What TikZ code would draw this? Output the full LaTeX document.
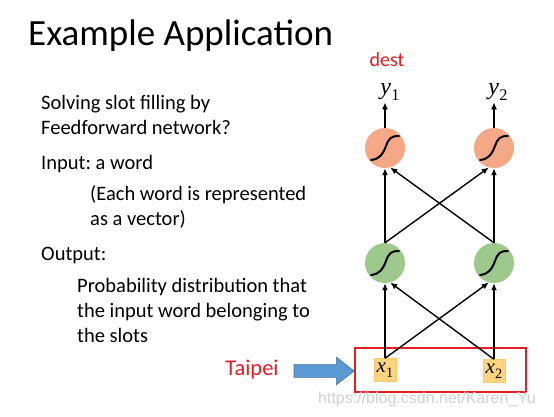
\documentclass[tikz,border=0pt]{standalone}
\usepackage{fontspec}
\setmainfont{Carlito}
\newfontfamily\wmfont{Liberation Sans}
\newfontfamily\varfont{Liberation Serif}
\usepackage{tikz}
\usetikzlibrary{arrows.meta,positioning,calc,shapes.arrows}
\definecolor{slideRed}{HTML}{E31E24}
\definecolor{outSalmon}{HTML}{F5A886}
\definecolor{hidGreen}{HTML}{9DC98C}
\definecolor{inYellow}{HTML}{FFD47F}
\definecolor{arrBlue}{HTML}{5B9BD5}
\newcommand{\varsub}[3]{{\varfont\fontsize{#3}{#3}\selectfont\itshape #1\kern0.3pt\raisebox{-0.22em}{\fontsize{0.68\dimexpr#3pt\relax}{1}\selectfont\upshape #2}}}
\tikzset{
  neuron/.style   = {circle, minimum size=40pt, inner sep=0pt},
  xbox/.style     = {rectangle, fill=inYellow, draw=inYellow!85!orange, minimum width=22pt,
                     minimum height=23pt, inner sep=0pt},
  bodytext/.style = {anchor=base west, inner sep=0pt, font=\fontsize{20.5}{24}\selectfont},
  wire/.style     = {-{Latex[length=7pt,width=6pt]}, line width=1.4pt},
  sigline/.style  = {line width=2pt, line cap=round},
}
\frenchspacing

\begin{document}
\begin{tikzpicture}[x=1pt,y=-1pt]

  % Page
  \fill[white] (0,0) rectangle (554,416);
  \useasboundingbox (0,0) rectangle (554,416);

  % Title
  \node[anchor=base west, inner sep=0pt, font=\fontsize{37}{44}\selectfont] (title) at (28,45)
    {Example Application};

  % === Slide text ===
  \node[bodytext] (t1) at (41,109) {Solving slot filling by};
  \node[bodytext] (t2) at (41,134) {Feedforward network?};
  \node[bodytext] (t3) at (41,169) {Input: a word};
  \node[bodytext] (t4) at (90,200) {(Each word is represented};
  \node[bodytext] (t5) at (90,225) {as a vector)};
  \node[bodytext] (t6) at (41,260) {Output:};
  \node[bodytext] (t7) at (77,292) {Probability distribution that};
  \node[bodytext] (t8) at (77,317) {the input word belonging to};
  \node[bodytext] (t9) at (77,342) {the slots};

  % === Network ===
  \node[font=\fontsize{20}{24}\selectfont, text=slideRed] (dest) at (387,60) {dest};
  \node[inner sep=2pt] (y1) at (390,92) {\varsub{y}{1}{24}};
  \node[inner sep=2pt] (y2) at (498,92) {\varsub{y}{2}{24}};

  % Output layer
  \node[neuron, fill=outSalmon] (o1) at (385,148) {};
  \node[neuron, fill=outSalmon] (o2) at (494,148) {};

  % Hidden layer
  \node[neuron, fill=hidGreen] (h1) at (385,263) {};
  \node[neuron, fill=hidGreen] (h2) at (494,263) {};

  % Sigmoid curves
  \foreach \n in {o1,o2,h1,h2} {
    \draw[sigline] ([shift={(-14,12)}]\n.center)
      .. controls ([shift={(-5,11)}]\n.center) and ([shift={(-2,6)}]\n.center) .. ([shift={(1,-2)}]\n.center)
      .. controls ([shift={(4,-10)}]\n.center) and ([shift={(6,-12)}]\n.center) .. ([shift={(14,-12)}]\n.center);
  }

  % Input words
  \node[draw=slideRed, line width=2pt, minimum width=171pt, minimum height=44pt, inner sep=0pt]
    (inframe) at (440.5,370) {};
  \node[xbox] (x1) at (385,370) {\varsub{x}{1}{21}};
  \node[xbox] (x2) at (494,371) {\varsub{x}{2}{21}};

  % Taipei and blue arrow
  \node[font=\fontsize{22.5}{26}\selectfont, text=slideRed] (taipei) at (252,370) {Taipei};
  \node[single arrow, fill=arrBlue, draw=arrBlue!75!black, line width=0.6pt, inner sep=0pt,
        inner ysep=6pt, minimum height=60pt, single arrow head extend=7.5pt,
        single arrow tip angle=76] (bluearrow) at (320,371) {};

  % Edges: input to hidden
  \draw[wire] (x1.north) -- (h1.south);
  \draw[wire] (x1.north) -- (h2.-105);
  \draw[wire] (x2.north) -- (h2.south);
  \draw[wire] (x2.north) -- (h1.-75);

  % Edges: hidden to output
  \draw[wire] (h1.north) -- (o1.south);
  \draw[wire] (h1.north) -- (o2.-105);
  \draw[wire] (h2.north) -- (o2.south);
  \draw[wire] (h2.north) -- (o1.-75);

  % Edges: output to labels
  \draw[wire] (o1.north) -- (o1.north |- y1.south);
  \draw[wire] (o2.north) -- (o2.north |- y2.south);

  % Watermark
  \node[font=\wmfont\fontsize{16}{18}\selectfont, text=black!18, anchor=west, inner sep=0pt]
    (watermark) at (318,399) {https://blog.csdn.net/Karen\_Yu};

\end{tikzpicture}
\end{document}
